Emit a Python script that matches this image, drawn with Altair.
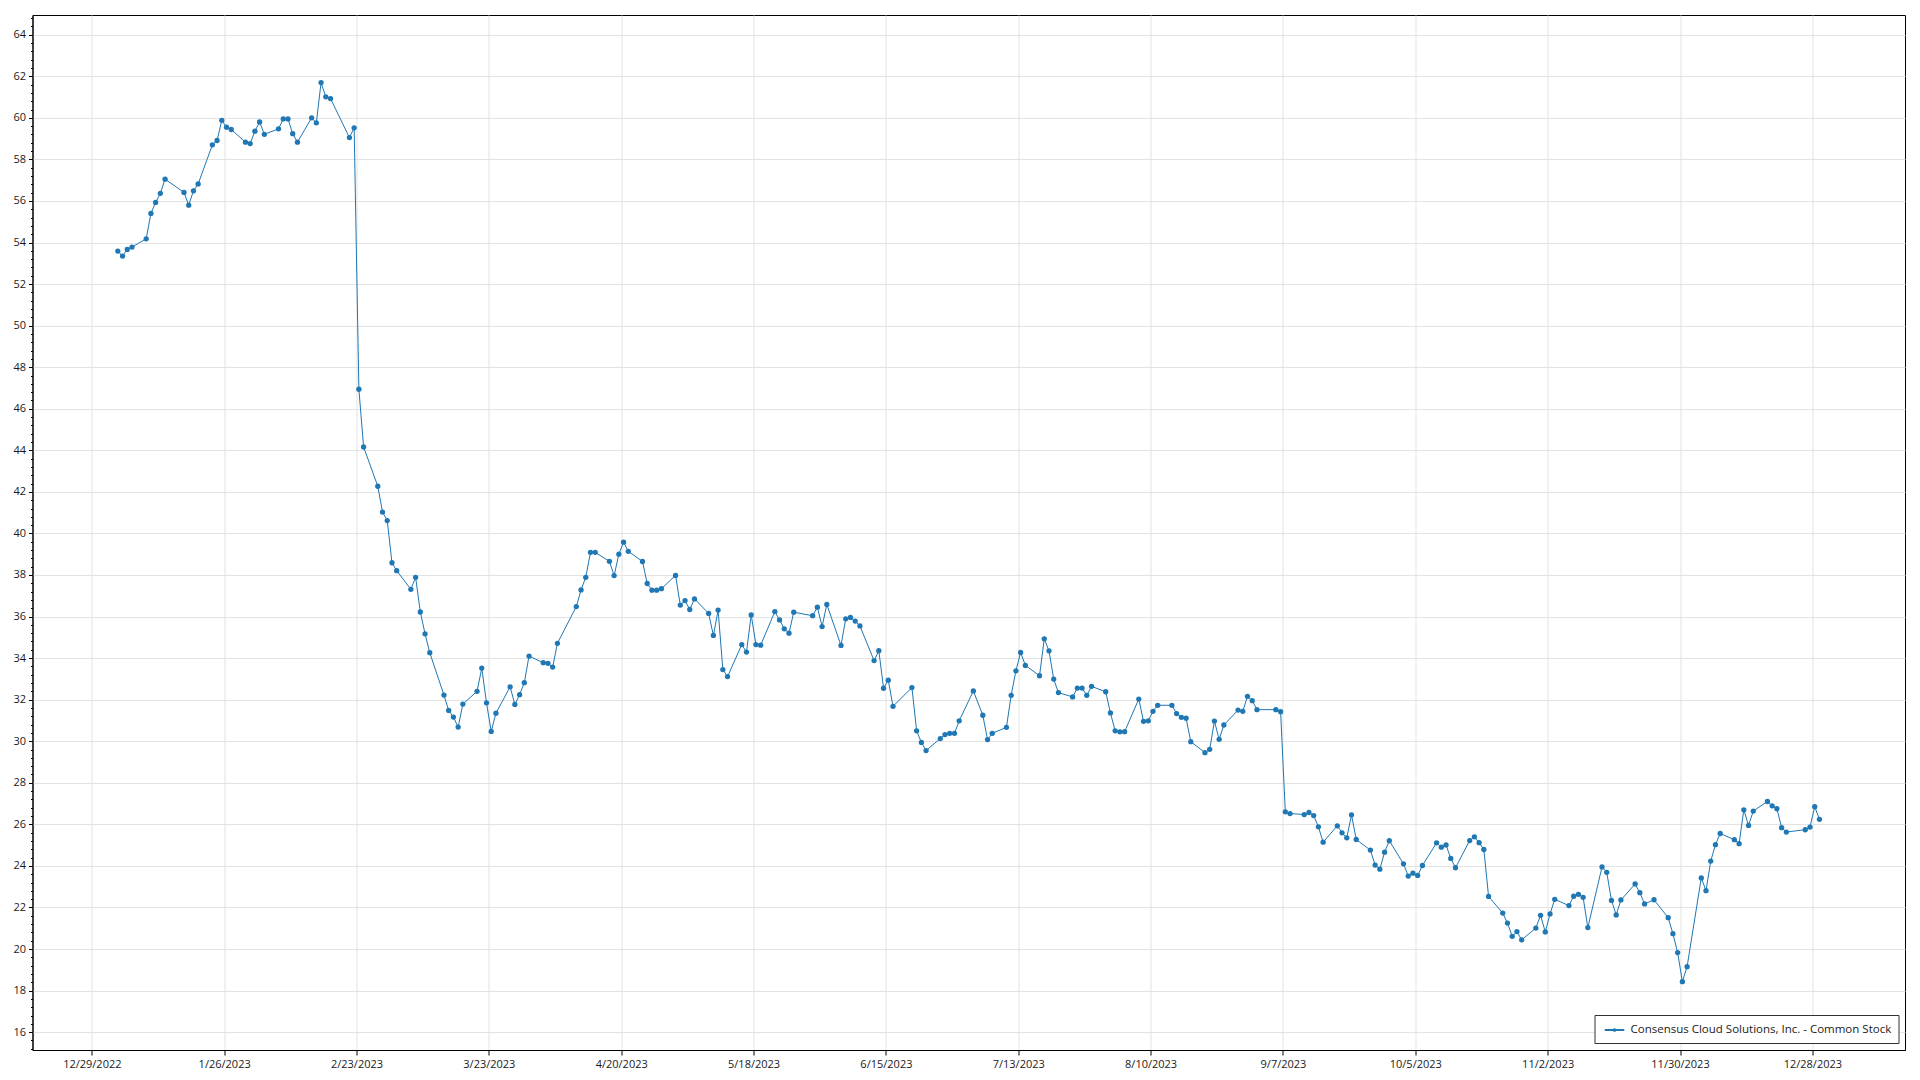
import altair as alt
import pandas as pd

series_name = "Consensus Cloud Solutions, Inc. - Common Stock"

dates = [
    # Jan
    "2023-01-03", "2023-01-04", "2023-01-05", "2023-01-06", "2023-01-09", "2023-01-10", "2023-01-11",
    "2023-01-12", "2023-01-13", "2023-01-17", "2023-01-18", "2023-01-19", "2023-01-20", "2023-01-23",
    "2023-01-24", "2023-01-25", "2023-01-26", "2023-01-27", "2023-01-30", "2023-01-31",
    # Feb
    "2023-02-01", "2023-02-02", "2023-02-03", "2023-02-06", "2023-02-07", "2023-02-08", "2023-02-09",
    "2023-02-10", "2023-02-13", "2023-02-14", "2023-02-15", "2023-02-16", "2023-02-17", "2023-02-21",
    "2023-02-22", "2023-02-23", "2023-02-24", "2023-02-27", "2023-02-28",
    # Mar
    "2023-03-01", "2023-03-02", "2023-03-03", "2023-03-06", "2023-03-07", "2023-03-08", "2023-03-09",
    "2023-03-10", "2023-03-13", "2023-03-14", "2023-03-15", "2023-03-16", "2023-03-17", "2023-03-20",
    "2023-03-21", "2023-03-22", "2023-03-23", "2023-03-24", "2023-03-27", "2023-03-28", "2023-03-29",
    "2023-03-30", "2023-03-31",
    # Apr
    "2023-04-03", "2023-04-04", "2023-04-05", "2023-04-06", "2023-04-10", "2023-04-11", "2023-04-12",
    "2023-04-13", "2023-04-14", "2023-04-17", "2023-04-18", "2023-04-19", "2023-04-20", "2023-04-21",
    "2023-04-24", "2023-04-25", "2023-04-26", "2023-04-27", "2023-04-28",
    # May
    "2023-05-01", "2023-05-02", "2023-05-03", "2023-05-04", "2023-05-05", "2023-05-08", "2023-05-09",
    "2023-05-10", "2023-05-11", "2023-05-12", "2023-05-15", "2023-05-16", "2023-05-17", "2023-05-18",
    "2023-05-19", "2023-05-22", "2023-05-23", "2023-05-24", "2023-05-25", "2023-05-26", "2023-05-30",
    "2023-05-31",
    # Jun
    "2023-06-01", "2023-06-02", "2023-06-05", "2023-06-06", "2023-06-07", "2023-06-08", "2023-06-09",
    "2023-06-12", "2023-06-13", "2023-06-14", "2023-06-15", "2023-06-16", "2023-06-20", "2023-06-21",
    "2023-06-22", "2023-06-23", "2023-06-26", "2023-06-27", "2023-06-28", "2023-06-29", "2023-06-30",
    # Jul
    "2023-07-03", "2023-07-05", "2023-07-06", "2023-07-07", "2023-07-10", "2023-07-11", "2023-07-12",
    "2023-07-13", "2023-07-14", "2023-07-17", "2023-07-18", "2023-07-19", "2023-07-20", "2023-07-21",
    "2023-07-24", "2023-07-25", "2023-07-26", "2023-07-27", "2023-07-28", "2023-07-31",
    # Aug
    "2023-08-01", "2023-08-02", "2023-08-03", "2023-08-04", "2023-08-07", "2023-08-08", "2023-08-09",
    "2023-08-10", "2023-08-11", "2023-08-14", "2023-08-15", "2023-08-16", "2023-08-17", "2023-08-18",
    "2023-08-21", "2023-08-22", "2023-08-23", "2023-08-24", "2023-08-25", "2023-08-28", "2023-08-29",
    "2023-08-30", "2023-08-31",
    # Sep
    "2023-09-01", "2023-09-05", "2023-09-06", "2023-09-07", "2023-09-08", "2023-09-11", "2023-09-12",
    "2023-09-13", "2023-09-14", "2023-09-15", "2023-09-18", "2023-09-19", "2023-09-20", "2023-09-21",
    "2023-09-22", "2023-09-25", "2023-09-26", "2023-09-27", "2023-09-28", "2023-09-29",
    # Oct
    "2023-10-02", "2023-10-03", "2023-10-04", "2023-10-05", "2023-10-06", "2023-10-09", "2023-10-10",
    "2023-10-11", "2023-10-12", "2023-10-13", "2023-10-16", "2023-10-17", "2023-10-18", "2023-10-19",
    "2023-10-20", "2023-10-23", "2023-10-24", "2023-10-25", "2023-10-26", "2023-10-27", "2023-10-30",
    "2023-10-31",
    # Nov
    "2023-11-01", "2023-11-02", "2023-11-03", "2023-11-06", "2023-11-07", "2023-11-08", "2023-11-09",
    "2023-11-10", "2023-11-13", "2023-11-14", "2023-11-15", "2023-11-16", "2023-11-17", "2023-11-20",
    "2023-11-21", "2023-11-22", "2023-11-24", "2023-11-27", "2023-11-28", "2023-11-29", "2023-11-30",
    # Dec
    "2023-12-01", "2023-12-04", "2023-12-05", "2023-12-06", "2023-12-07", "2023-12-08", "2023-12-11",
    "2023-12-12", "2023-12-13", "2023-12-14", "2023-12-15", "2023-12-18", "2023-12-19", "2023-12-20",
    "2023-12-21", "2023-12-22", "2023-12-26", "2023-12-27", "2023-12-28", "2023-12-29",
]

prices = [
    # Jan
    53.59, 53.35, 53.67, 53.78, 54.18, 55.40, 55.93, 56.37, 57.05, 56.41, 55.80, 56.49, 56.82, 58.70,
    58.91, 59.88, 59.55, 59.44, 58.83, 58.76,
    # Feb
    59.36, 59.80, 59.21, 59.47, 59.95, 59.95, 59.24, 58.83, 60.00, 59.76, 61.70, 61.01, 60.93, 59.05,
    59.52, 46.94, 44.16, 42.27, 41.03,
    # Mar
    40.62, 38.59, 38.21, 37.31, 37.89, 36.22, 35.17, 34.26, 32.22, 31.48, 31.16, 30.68, 31.79, 32.40,
    33.52, 31.85, 30.47, 31.35, 32.62, 31.77, 32.24, 32.82, 34.10,
    # Apr
    33.78, 33.75, 33.57, 34.71, 36.48, 37.28, 37.89, 39.09, 39.09, 38.66, 37.97, 39.00, 39.58, 39.14,
    38.65, 37.59, 37.27, 37.27, 37.34,
    # May
    37.98, 36.55, 36.77, 36.34, 36.85, 36.15, 35.09, 36.31, 33.45, 33.11, 34.65, 34.29, 36.08, 34.65,
    34.62, 36.24, 35.84, 35.41, 35.20, 36.21, 36.04, 36.45,
    # Jun
    35.52, 36.58, 34.61, 35.89, 35.96, 35.78, 35.55, 33.88, 34.36, 32.55, 32.94, 31.68, 32.58, 30.50,
    29.94, 29.55, 30.13, 30.32, 30.38, 30.38, 30.98,
    # Jul
    32.42, 31.25, 30.08, 30.38, 30.67, 32.21, 33.39, 34.27, 33.65, 33.15, 34.93, 34.35, 32.99, 32.34,
    32.13, 32.56, 32.56, 32.21, 32.64, 32.38,
    # Aug
    31.36, 30.50, 30.45, 30.46, 32.03, 30.96, 30.98, 31.44, 31.73, 31.73, 31.33, 31.15, 31.11, 29.98,
    29.45, 29.61, 30.97, 30.09, 30.78, 31.50, 31.44, 32.16, 31.95,
    # Sep
    31.52, 31.52, 31.42, 26.60, 26.52, 26.47, 26.57, 26.42, 25.88, 25.14, 25.93, 25.59, 25.35, 26.46,
    25.27, 24.76, 24.04, 23.84, 24.66, 25.21,
    # Oct
    24.10, 23.51, 23.65, 23.54, 24.02, 25.11, 24.90, 25.01, 24.36, 23.91, 25.22, 25.40, 25.12, 24.79,
    22.53, 21.73, 21.25, 20.61, 20.84, 20.44, 21.01, 21.62,
    # Nov
    20.82, 21.69, 22.39, 22.09, 22.54, 22.63, 22.49, 21.03, 23.95, 23.69, 22.34, 21.64, 22.36, 23.13,
    22.71, 22.17, 22.37, 21.51, 20.74, 19.83, 18.43,
    # Dec
    19.15, 23.42, 22.81, 24.23, 25.02, 25.56, 25.26, 25.07, 26.70, 25.95, 26.64, 27.10, 26.89, 26.75,
    25.84, 25.63, 25.74, 25.87, 26.85, 26.24,
]

x_tick_dates = [
    (2022, 12, 29), (2023, 1, 26), (2023, 2, 23), (2023, 3, 23), (2023, 4, 20), (2023, 5, 18),
    (2023, 6, 15), (2023, 7, 13), (2023, 8, 10), (2023, 9, 7), (2023, 10, 5), (2023, 11, 2),
    (2023, 11, 30), (2023, 12, 28),
]
y_ticks = list(range(16, 65, 2))
y_minor = [round(15.2 + 0.4 * i, 1) for i in range(125) if (i % 5) != 2]

df = pd.DataFrame({
    "date": [d + "T12:00:00Z" for d in dates],
    "price": prices,
    "series": [series_name] * len(prices),
})

FONT = "Open Sans"
BLUE = "#1f77b4"

x_enc = alt.X(
    "date:T",
    scale=alt.Scale(
        type="utc",
        domain=[
            alt.DateTime(year=2022, month=12, date=16, hours=10, minutes=50, utc=True),
            alt.DateTime(year=2024, month=1, date=16, hours=14, minutes=24, utc=True),
        ],
    ),
    axis=alt.Axis(
        values=[alt.DateTime(year=y, month=m, date=d, utc=True) for (y, m, d) in x_tick_dates],
        labelExpr="utcFormat(datum.value, '%-m/%-d/%Y')",
        title=None,
        grid=True,
        tickSize=5,
        labelPadding=3,
    ),
)

y_scale = alt.Scale(domain=[15.14, 64.95], nice=False, zero=False)

color_enc = alt.Color(
    "series:N",
    scale=alt.Scale(domain=[series_name], range=[BLUE]),
    legend=alt.Legend(
        title=None,
        orient="bottom-right",
        offset=7,
        padding=7,
        symbolType="M-1.4,0L1.4,0M-0.12,0A0.12,0.12,0,1,1,0.12,0A0.12,0.12,0,1,1,-0.12,0Z",
        symbolSize=196,
        symbolStrokeWidth=2,
        symbolOffset=5,
        labelOffset=8,
        labelLimit=0,
        strokeColor="#333333",
        fillColor="white",
        labelFont=FONT,
        labelFontSize=11.5,
        labelColor="#1a1a1a",
    ),
)

base = alt.Chart(df)

line = base.mark_line(strokeWidth=1, color=BLUE).encode(
    x=x_enc,
    y=alt.Y("price:Q", scale=y_scale,
            axis=alt.Axis(values=y_ticks, title=None, grid=True, tickSize=4, labelPadding=3)),
    color=color_enc,
)

points = base.mark_point(filled=True, size=28, opacity=1, color=BLUE).encode(
    x=x_enc,
    y=alt.Y("price:Q", scale=y_scale, axis=None),
    color=color_enc,
)

minor = base.mark_point(opacity=0).encode(
    x=x_enc,
    y=alt.Y("price:Q", scale=y_scale,
            axis=alt.Axis(values=y_minor, labels=False, grid=False, domain=False,
                          tickSize=2, orient="left", title=None)),
)

chart = (
    alt.layer(line, points, minor)
    .resolve_axis(y="independent")
    .properties(
        width=1872.5,
        height=1035,
        autosize=alt.AutoSizeParams(type="none"),
        padding={"left": 24.5, "top": 7, "right": 7, "bottom": 30},
    )
    .configure_view(stroke="black", strokeWidth=1)
    .configure_axis(
        labelFont=FONT,
        labelFontSize=11,
        labelColor="#1a1a1a",
        domainColor="black",
        tickColor="black",
        gridColor="#e3e3e3",
        gridWidth=1,
    )
)

chart.save("out.html", embed_options={"renderer": "svg", "actions": False})
